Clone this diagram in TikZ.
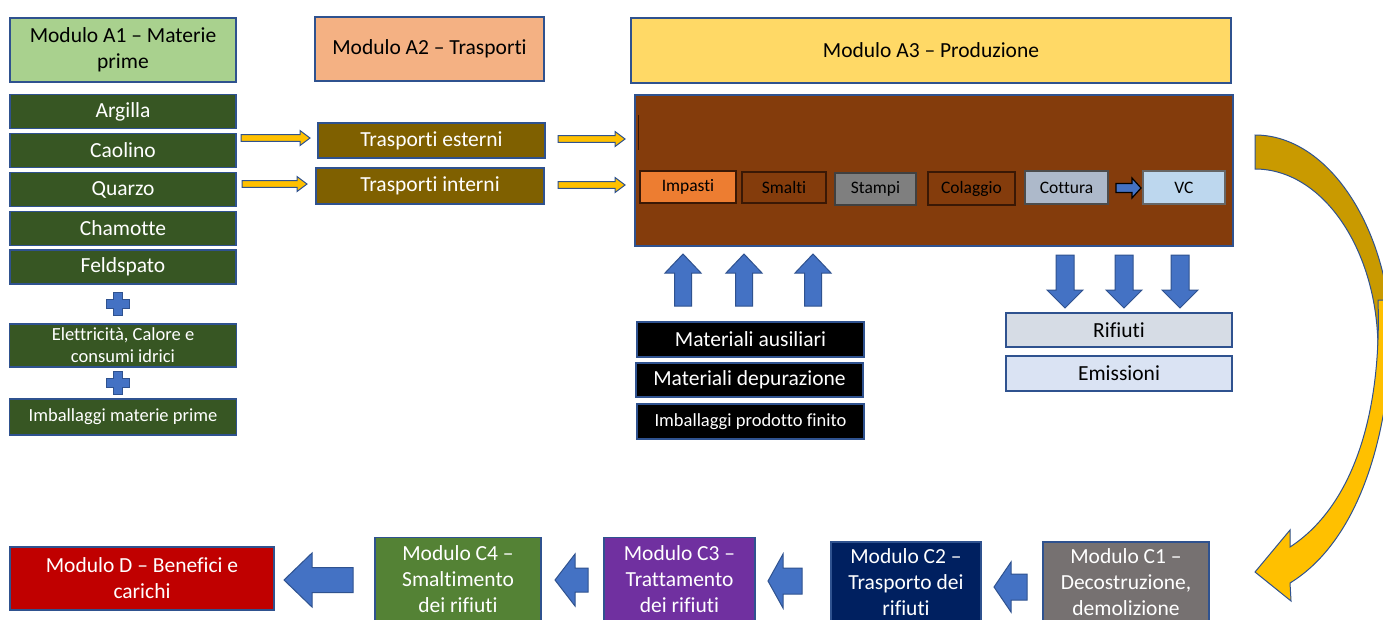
\documentclass[tikz,border=0pt]{standalone}
\usepackage{fontspec}
\setmainfont{Carlito}[Ligatures={NoCommon}]
\definecolor{bordc}{HTML}{2F528F}
\definecolor{aone}{HTML}{A9D18E}
\definecolor{atwo}{HTML}{F4B183}
\definecolor{athree}{HTML}{FFD966}
\definecolor{dgreen}{HTML}{375623}
\definecolor{olive}{HTML}{7F6000}
\definecolor{brown}{HTML}{843C0C}
\definecolor{impc}{HTML}{ED7D31}
\definecolor{stampc}{HTML}{7F7F7F}
\definecolor{cottc}{HTML}{ADB9CA}
\definecolor{vcc}{HTML}{BDD7EE}
\definecolor{rifc}{HTML}{D6DCE5}
\definecolor{emic}{HTML}{DAE3F3}
\definecolor{redd}{HTML}{C00000}
\definecolor{cfour}{HTML}{548235}
\definecolor{cthree}{HTML}{7030A0}
\definecolor{ctwo}{HTML}{002060}
\definecolor{cone}{HTML}{767171}
\definecolor{goldd}{HTML}{C99A00}
\definecolor{goldb}{HTML}{FFC000}
\definecolor{bluea}{HTML}{4472C4}
\definecolor{innerb}{HTML}{3A1805}
\newcommand\blkR[7]{\draw[#7] (#1,{#3-#4}) -- ({#2-#6},{#3-#4}) -- ({#2-#6},{#3-#5}) -- (#2,#3) -- ({#2-#6},{#3+#5}) -- ({#2-#6},{#3+#4}) -- (#1,{#3+#4}) -- cycle;}
\newcommand\blkL[7]{\draw[#7] (#2,{#3-#4}) -- ({#1+#6},{#3-#4}) -- ({#1+#6},{#3-#5}) -- (#1,#3) -- ({#1+#6},{#3+#5}) -- ({#1+#6},{#3+#4}) -- (#2,{#3+#4}) -- cycle;}
\newcommand\blkU[7]{\draw[#7] ({#1-#4},#3) -- ({#1-#4},{#2+#6}) -- ({#1-#5},{#2+#6}) -- (#1,#2) -- ({#1+#5},{#2+#6}) -- ({#1+#4},{#2+#6}) -- ({#1+#4},#3) -- cycle;}
\newcommand\blkD[7]{\draw[#7] ({#1-#4},#2) -- ({#1-#4},{#3-#6}) -- ({#1-#5},{#3-#6}) -- (#1,#3) -- ({#1+#5},{#3-#6}) -- ({#1+#4},{#3-#6}) -- ({#1+#4},#2) -- cycle;}
\newcommand\plussign[2]{\draw[barrow] ({#1-4.5},{#2-11.5}) -- ({#1+4.5},{#2-11.5}) -- ({#1+4.5},{#2-4.5}) -- ({#1+11.5},{#2-4.5}) -- ({#1+11.5},{#2+4.5}) -- ({#1+4.5},{#2+4.5}) -- ({#1+4.5},{#2+11.5}) -- ({#1-4.5},{#2+11.5}) -- ({#1-4.5},{#2+4.5}) -- ({#1-11.5},{#2+4.5}) -- ({#1-11.5},{#2-4.5}) -- ({#1-4.5},{#2-4.5}) -- cycle;}
\tikzset{
  box/.style={draw=bordc, line width=1.4pt, inner sep=0pt, align=center, text=white},
  hdr/.style={box, text=black},
  inbox/.style={draw=innerb, line width=1.2pt, inner sep=0pt, align=center, text=black, font=\fontsize{17.5}{20}\selectfont},
  yarrow/.style={fill=goldb, draw=bordc, line width=1pt, line join=miter},
  barrow/.style={fill=bluea, draw=bordc, line width=1pt},
  smallarrow/.style={fill=bluea, draw=black, line width=1.2pt},
  small/.style={font=\fontsize{18.5}{22}\selectfont}
}
\begin{document}
\begin{tikzpicture}[x=1pt,y=-1pt,font=\fontsize{21.5}{26}\selectfont]
\useasboundingbox (0,0) rectangle (1383,619);
\clip (0,0) rectangle (1383,619);
\fill[white] (0,0) rectangle (1383,619);
% headers
\node[hdr, fill=aone, minimum width=226, minimum height=64] (a1) at (123,50) {Modulo A1 -- Materie\\prime};
\node[hdr, fill=atwo, minimum width=229, minimum height=64] (a2) at (429.5,49) {Modulo A2 -- Trasporti};
\node[hdr, fill=athree, minimum width=600, minimum height=65] (a3) at (931,50.5) {Modulo A3 -- Produzione};
% raw materials
\node[box, fill=dgreen, minimum width=226, minimum height=34] (arg) at (123,111.5) {Argilla};
\node[box, fill=dgreen, minimum width=226, minimum height=34] (cao) at (123,150.5) {Caolino};
\node[box, fill=dgreen, minimum width=226, minimum height=34] (qua) at (123,189.5) {Quarzo};
\node[box, fill=dgreen, minimum width=226, minimum height=34] (cha) at (123,228.5) {Chamotte};
\node[box, fill=dgreen, minimum width=226, minimum height=34] (fel) at (123,267) {Feldspato};
\plussign{118}{304}
\node[box, small, fill=dgreen, minimum width=227, minimum height=43] (ele) at (123,345.5) {Elettricità, Calore e\\consumi idrici};
\plussign{118}{383}
\node[box, small, fill=dgreen, minimum width=227, minimum height=36] (imp) at (123,417) {Imballaggi materie prime};
% transports
\node[box, fill=olive, minimum width=227, minimum height=35] (tre) at (431.5,140.5) {Trasporti esterni};
\node[box, fill=olive, minimum width=228, minimum height=36] (tri) at (430,186) {Trasporti interni};
\blkR{241}{310}{138}{3.4}{7.5}{10}{yarrow}
\blkR{242}{307}{184}{3.4}{7.5}{10}{yarrow}
\blkR{558}{625}{139}{3.4}{7.5}{10}{yarrow}
\blkR{558}{625}{185}{3.4}{7.5}{10}{yarrow}
% production
\node[box, fill=brown, minimum width=598, minimum height=151] (prod) at (934,170.5) {};
\draw[innerb, line width=1pt] (638.5,115) -- (638.5,150);
\node[inbox, fill=impc, minimum width=96, minimum height=32] (ipa) at (688,187) {Impasti};
\node[inbox, fill=brown, minimum width=84, minimum height=31] (sma) at (784,187.5) {Smalti};
\node[inbox, fill=stampc, draw=black!75, minimum width=81, minimum height=32] (sta) at (875.5,189) {Stampi};
\node[inbox, fill=brown, minimum width=87, minimum height=33] (col) at (971.5,188.5) {Colaggio};
\node[inbox, fill=cottc, draw=black!70, minimum width=83, minimum height=33] (cot) at (1066.5,187.5) {Cottura};
\node[inbox, fill=vcc, draw=black!60, minimum width=82, minimum height=33] (vc) at (1184,187.5) {VC};
\blkR{1116}{1141}{188}{4.5}{10}{9}{smallarrow}
% inputs
\blkU{683}{254}{306}{8.5}{18}{19}{barrow}
\blkU{744}{254}{306}{8.5}{18}{19}{barrow}
\blkU{813}{254}{306}{8.5}{18}{19}{barrow}
\node[box, fill=black, minimum width=227, minimum height=35] (mau) at (750.5,339.5) {Materiali ausiliari};
\node[box, fill=black, minimum width=227, minimum height=34] (mde) at (749.5,380) {Materiali depurazione};
\node[box, small, fill=black, minimum width=227, minimum height=35] (ipf) at (750.5,421.5) {Imballaggi prodotto finito};
% outputs
\blkD{1065}{255}{308}{9}{18}{18}{barrow}
\blkD{1124}{255}{308}{9}{18}{18}{barrow}
\blkD{1180}{255}{308}{9}{18}{18}{barrow}
\node[box, text=black, fill=rifc, minimum width=226, minimum height=34] (rif) at (1119,330) {Rifiuti};
\node[box, text=black, fill=emic, minimum width=226, minimum height=35] (emi) at (1119,373.5) {Emissioni};
% curved arrow
\draw[fill=goldd, draw=bordc, line width=1pt] (1255,135) .. controls (1329.5,135) and (1392,231) .. (1392,350) -- (1378,350) .. controls (1378,250) and (1323,169) .. (1255,169) -- cycle;
\draw[fill=goldb, draw=bordc, line width=1pt] (1392,300) .. controls (1394,430) and (1360,540) .. (1290,583) -- (1291,601) -- (1255,572) -- (1290,530) -- (1290,547) .. controls (1350,508) and (1382,420) .. (1378,300) -- cycle;
% bottom row
\node[box, fill=redd, minimum width=264, minimum height=63] (md) at (142,578.5) {Modulo D -- Benefici e\\carichi};
\node[box, fill=cfour, minimum width=166, minimum height=84] (c4) at (458,579.5) {Modulo C4 --\\Smaltimento\\dei rifiuti};
\node[box, fill=cthree, minimum width=151, minimum height=84] (c3) at (679.5,579.5) {Modulo C3 --\\Trattamento\\dei rifiuti};
\node[box, fill=ctwo, minimum width=150, minimum height=80] (c2) at (906,582) {Modulo C2 --\\Trasporto dei\\rifiuti};
\node[box, fill=cone, minimum width=166, minimum height=80] (c1) at (1126,582) {Modulo C1 --\\Decostruzione,\\demolizione};
\blkL{284}{353}{580}{12.5}{27}{28}{barrow}
\blkL{555}{588}{580}{12}{26}{20}{barrow}
\blkL{768}{802}{581}{13}{27}{15}{barrow}
\blkL{994}{1027}{587}{13}{25}{17}{barrow}
\end{tikzpicture}
\end{document}
